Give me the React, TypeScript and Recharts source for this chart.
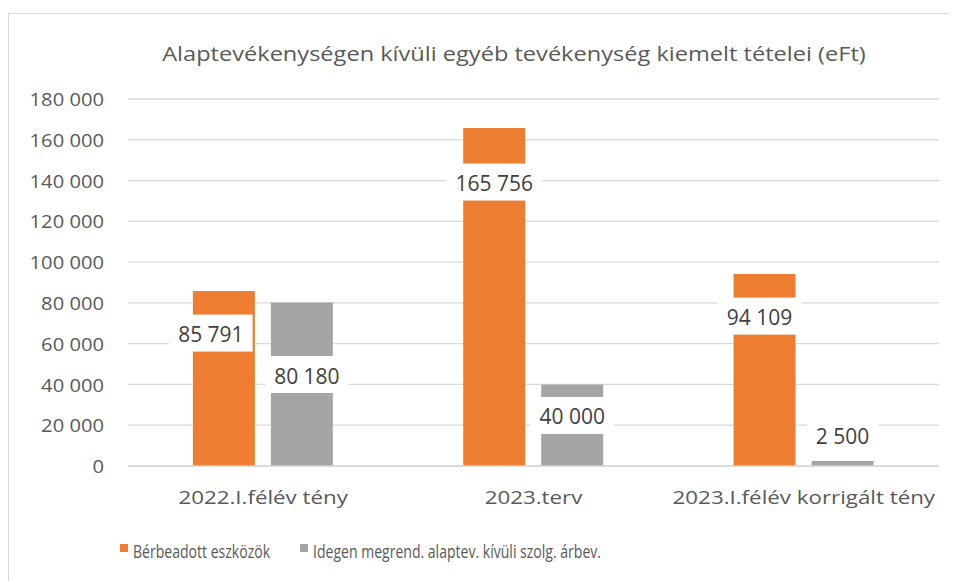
import { BarChart, Bar, XAxis, YAxis, CartesianGrid, LabelList } from "recharts"

const categories = ["2022.I.félév tény", "2023.terv", "2023.I.félév korrigált tény"]
const rented = [85791, 165756, 94109]
const foreignOrders = [80180, 40000, 2500]
const yTicks = [0, 20000, 40000, 60000, 80000, 100000, 120000, 140000, 160000, 180000]

const seriesNames = ["Bérbeadott eszközök", "Idegen megrend. alaptev. kívüli szolg. árbev."]
const seriesColors = ["#ED7D31", "#A5A5A5"]

// label box nudges (px) relative to the bar top, per bar
const rentedLabelShift = [
  [-13, 42],
  [0, 54],
  [-5, 42],
]
const foreignLabelShift = [
  [5, 72],
  [0, 31],
  [0, -26],
]

const data = categories.map((name, i) => ({
  name,
  rented: rented[i],
  foreign: foreignOrders[i],
}))

const fmt = (v: number) => v.toLocaleString("en-US").replace(/,/g, " ")

const textWidth = (s: string) =>
  s.split("").reduce((w, c) => w + (c === " " ? 5.5 : 12), 0)

const stretch = (x: number, y: number, sx: number) =>
  `translate(${x} ${y}) scale(${sx} 1) translate(${-x} ${-y})`

function makeLabel(shift: number[][]) {
  return (props: any) => {
    const { x, y, width, value, index } = props
    const [dx, dy] = shift[index] || [0, 0]
    const text = fmt(Number(value))
    const w = textWidth(text) + 18
    const h = 37
    const cx = Number(x) + Number(width) / 2 + dx
    const cy = Number(y) + dy
    return (
      <g>
        <rect x={cx - w / 2} y={cy - h / 2} width={w} height={h} fill="#ffffff" />
        <text
          x={cx}
          y={cy + 1}
          textAnchor="middle"
          dominantBaseline="central"
          fill="#404040"
          fontSize={21}
          fontFamily="Open Sans"
        >
          {text}
        </text>
      </g>
    )
  }
}

const YTick = (props: any) => {
  const { x, y, payload } = props
  return (
    <text
      x={x}
      y={y}
      textAnchor="end"
      dominantBaseline="central"
      fill="#595959"
      fontSize={18.5}
      fontFamily="Open Sans"
      transform={stretch(x, y, 1.09)}
    >
      {fmt(payload.value)}
    </text>
  )
}

const XTick = (props: any) => {
  const { x, y, payload } = props
  const ty = y + 25
  return (
    <text
      x={x}
      y={ty}
      textAnchor="middle"
      dominantBaseline="central"
      fill="#595959"
      fontSize={18.3}
      fontFamily="Open Sans"
      transform={stretch(x, ty, 1.22)}
    >
      {payload.value}
    </text>
  )
}

export default function App() {
  return (
    <div
      style={{
        position: "relative",
        marginTop: 5,
        width: 941,
        height: 570,
        border: "1px solid #d9d9d9",
        background: "#fff",
        fontFamily: "Open Sans",
      }}
    >
      <div
        style={{
          position: "absolute",
          top: 25,
          left: 0,
          width: 1010,
          lineHeight: "28px",
          textAlign: "center",
          fontSize: 20.5,
          color: "#595959",
          whiteSpace: "nowrap",
          transform: "scaleX(1.15)",
          transformOrigin: "505px 50%",
        }}
      >
        Alaptevékenységen kívüli egyéb tevékenység kiemelt tételei (eFt)
      </div>
      <BarChart
        width={941}
        height={560}
        data={data}
        margin={{ top: 85, right: 11, left: 0, bottom: 78 }}
        barCategoryGap="24%"
        barGap={16}
      >
        <CartesianGrid vertical={false} stroke="#d9d9d9" strokeWidth={1.3} />
        <XAxis
          dataKey="name"
          height={30}
          tickLine={false}
          axisLine={{ stroke: "#d9d9d9", strokeWidth: 1.3 }}
          tickMargin={0}
          tick={<XTick />}
        />
        <YAxis
          width={119}
          domain={[0, 180000]}
          ticks={yTicks}
          interval={0}
          tickLine={false}
          axisLine={false}
          tickMargin={18}
          tick={<YTick />}
        />
        <Bar dataKey="rented" name={seriesNames[0]} fill={seriesColors[0]} isAnimationActive={false}>
          <LabelList dataKey="rented" content={makeLabel(rentedLabelShift)} />
        </Bar>
        <Bar dataKey="foreign" name={seriesNames[1]} fill={seriesColors[1]} isAnimationActive={false}>
          <LabelList dataKey="foreign" content={makeLabel(foreignLabelShift)} />
        </Bar>
      </BarChart>
      {seriesNames.map((n, i) => {
        const left = i === 0 ? 111 : 291
        return (
          <div key={n}>
            <span
              style={{
                position: "absolute",
                left,
                top: 530,
                width: 8,
                height: 8,
                background: seriesColors[i],
              }}
            />
            <span
              style={{
                position: "absolute",
                left: left + 13,
                top: 525,
                fontSize: 18,
                lineHeight: "24.5px",
                color: "#595959",
                whiteSpace: "nowrap",
                transform: "scaleX(0.78)",
                transformOrigin: "0 50%",
              }}
            >
              {n}
            </span>
          </div>
        )
      })}
    </div>
  )
}
